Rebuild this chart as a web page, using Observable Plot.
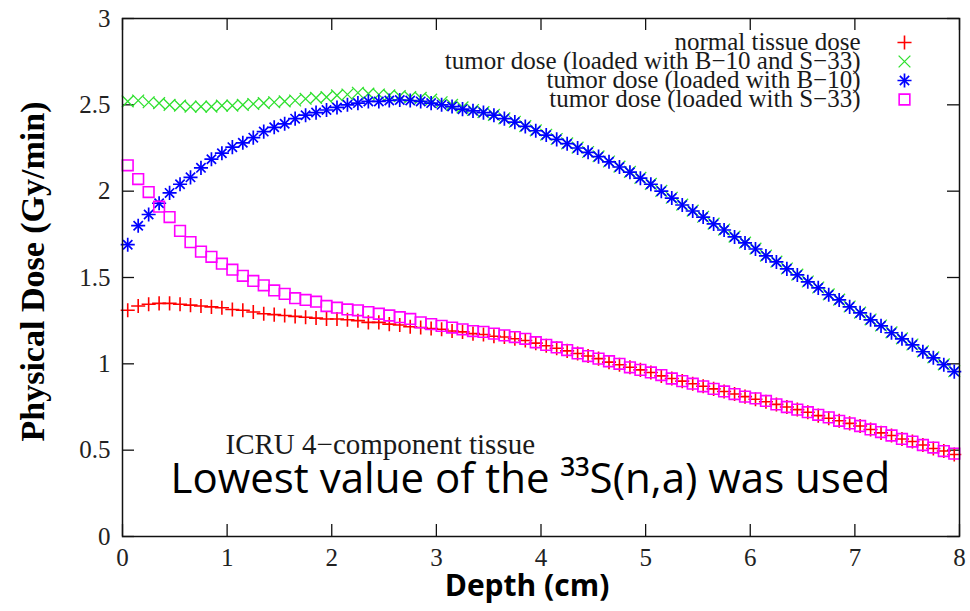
<!DOCTYPE html>
<html>
<head>
<meta charset="utf-8">
<script src="https://cdn.jsdelivr.net/npm/d3@7"></script>
<script src="https://cdn.jsdelivr.net/npm/@observablehq/plot@0.6"></script>
<style>
  body { margin: 0; background: #fff; }
</style>
</head>
<body>
<div id="chart"></div>
<script>
// ---- data ----
const depth = [
  0.05,0.15,0.25,0.35,0.45,0.55,0.65,0.75,0.85,0.95,
  1.05,1.15,1.25,1.35,1.45,1.55,1.65,1.75,1.85,1.95,
  2.05,2.15,2.25,2.35,2.45,2.55,2.65,2.75,2.85,2.95,
  3.05,3.15,3.25,3.35,3.45,3.55,3.65,3.75,3.85,3.95,
  4.05,4.15,4.25,4.35,4.45,4.55,4.65,4.75,4.85,4.95,
  5.05,5.15,5.25,5.35,5.45,5.55,5.65,5.75,5.85,5.95,
  6.05,6.15,6.25,6.35,6.45,6.55,6.65,6.75,6.85,6.95,
  7.05,7.15,7.25,7.35,7.45,7.55,7.65,7.75,7.85,7.95
];
const normalTissue = [
  1.31,1.335,1.345,1.35,1.35,1.345,1.34,1.335,1.33,1.325,
  1.315,1.31,1.30,1.29,1.285,1.28,1.275,1.27,1.265,1.26,
  1.26,1.255,1.25,1.24,1.24,1.23,1.225,1.215,1.21,1.205,
  1.20,1.19,1.185,1.175,1.17,1.16,1.155,1.145,1.135,1.12,
  1.105,1.09,1.075,1.06,1.045,1.03,1.01,0.995,0.98,0.965,
  0.95,0.93,0.915,0.90,0.885,0.87,0.855,0.84,0.825,0.81,
  0.795,0.78,0.765,0.75,0.735,0.72,0.70,0.685,0.67,0.655,
  0.64,0.62,0.60,0.585,0.565,0.55,0.53,0.51,0.495,0.475
];
const tumorB10S33 = [
  2.52,2.525,2.515,2.51,2.50,2.495,2.49,2.49,2.49,2.495,
  2.495,2.50,2.505,2.51,2.515,2.52,2.525,2.535,2.54,2.545,
  2.555,2.56,2.57,2.565,2.56,2.555,2.55,2.545,2.54,2.53,
  2.515,2.50,2.485,2.47,2.458,2.442,2.422,2.402,2.377,2.352,
  2.327,2.302,2.277,2.252,2.227,2.202,2.172,2.142,2.112,2.077,
  2.042,2.002,1.962,1.922,1.887,1.852,1.812,1.777,1.737,1.702,
  1.667,1.627,1.592,1.552,1.517,1.477,1.442,1.402,1.372,1.332,
  1.297,1.257,1.222,1.182,1.147,1.112,1.072,1.037,0.997,0.957
];
const tumorB10 = [
  1.69,1.80,1.865,1.93,1.99,2.04,2.08,2.135,2.185,2.22,
  2.255,2.28,2.31,2.345,2.37,2.39,2.42,2.44,2.455,2.47,
  2.485,2.50,2.51,2.52,2.52,2.525,2.528,2.525,2.52,2.51,
  2.50,2.49,2.475,2.465,2.455,2.44,2.42,2.40,2.375,2.35,
  2.325,2.30,2.275,2.25,2.225,2.20,2.17,2.14,2.11,2.075,
  2.04,2.00,1.96,1.92,1.885,1.85,1.81,1.775,1.735,1.70,
  1.665,1.625,1.59,1.55,1.515,1.475,1.44,1.40,1.37,1.33,
  1.295,1.255,1.22,1.18,1.145,1.11,1.07,1.035,0.995,0.955
];
const tumorS33 = [
  2.15,2.07,1.995,1.91,1.85,1.77,1.705,1.65,1.62,1.58,
  1.545,1.51,1.48,1.455,1.425,1.405,1.38,1.37,1.36,1.335,
  1.325,1.315,1.31,1.30,1.29,1.28,1.27,1.26,1.24,1.23,
  1.22,1.21,1.20,1.19,1.185,1.175,1.165,1.155,1.145,1.125,
  1.11,1.095,1.08,1.06,1.045,1.03,1.015,1.0,0.98,0.965,
  0.95,0.935,0.915,0.90,0.885,0.87,0.855,0.84,0.825,0.81,
  0.80,0.785,0.765,0.75,0.735,0.72,0.705,0.69,0.67,0.655,
  0.64,0.62,0.605,0.585,0.565,0.55,0.53,0.515,0.495,0.48
];
const xTicks = [0, 1, 2, 3, 4, 5, 6, 7, 8];
const yTicks = [0, 0.5, 1, 1.5, 2, 2.5, 3];
const legendLabels = [
  "normal tissue dose",
  "tumor dose (loaded with B\u221210 and S\u221233)",
  "tumor dose (loaded with B\u221210)",
  "tumor dose (loaded with S\u221233)"
];
const seriesColors = ["#ff0000", "#2ee02e", "#0000ff", "#ff00ff"];
const xTitle = "Depth (cm)";
const yTitle = "Physical Dose (Gy/min)";
const materialNote = "ICRU 4\u2212component tissue";
const annotation = "Lowest value of the \u00B3\u00B3S(n,a) was used";

// ---- build ----
const rows = vals => depth.map((d, i) => ({depth: d, dose: vals[i]}));
const serif = "Liberation Serif, Times New Roman, serif";
const sans = "Open Sans, Liberation Sans, sans-serif";

// symbol styles per series: list of [symbol, r, strokeWidth]
const seriesSymbols = [
  [["plus", 4.6, 1.6]],
  [["times", 5.4, 1.3]],
  [["plus", 4.6, 1.7], ["times", 4.3, 1.7]],
  [["square2", 6.8, 1.6]]
];
const seriesData = [normalTissue, tumorB10S33, tumorB10, tumorS33];

const frameW = 970 - 122 - 11;
const frameH = 611 - 18 - 75;

const marks = [];
// inward ticks on all four sides
marks.push(Plot.tickX(xTicks, {x: d => d, insetTop: frameH - 12, stroke: "#111", strokeWidth: 1.3}));
marks.push(Plot.tickX(xTicks, {x: d => d, insetBottom: frameH - 12, stroke: "#111", strokeWidth: 1.3}));
marks.push(Plot.tickY(yTicks, {y: d => d, insetRight: frameW - 12, stroke: "#111", strokeWidth: 1.3}));
marks.push(Plot.tickY(yTicks, {y: d => d, insetLeft: frameW - 12, stroke: "#111", strokeWidth: 1.3}));
// tick labels
const fmt = d => String(d);
marks.push(Plot.axisX(xTicks, {anchor: "bottom", tickSize: 0, tickPadding: 12, label: null, tickFormat: fmt, fill: "#222", fontSize: 25}));
marks.push(Plot.axisY(yTicks, {anchor: "left", tickSize: 0, tickPadding: 12, label: null, tickFormat: fmt, fill: "#222", fontSize: 25}));

// series
seriesData.forEach((vals, k) => {
  seriesSymbols[k].forEach(([sym, r, sw]) => {
    marks.push(Plot.dot(rows(vals), {x: "depth", y: "dose", symbol: sym, r, stroke: seriesColors[k], strokeWidth: sw}));
  });
});

// legend (inside the frame, top-right)
legendLabels.forEach((lab, k) => {
  marks.push(Plot.text([lab], {text: d => d, frameAnchor: "top-right", dx: -99, dy: 31 + k * 19,
    textAnchor: "end", lineAnchor: "bottom", fontSize: 25, fontFamily: serif, fill: "#1a1a1a"}));
  seriesSymbols[k].forEach(([sym, r, sw]) => {
    marks.push(Plot.dot([0], {frameAnchor: "top-right", dx: -55, dy: 24 + k * 19,
      symbol: sym, r, stroke: seriesColors[k], strokeWidth: sw}));
  });
});

// annotations
marks.push(Plot.text([materialNote], {text: d => d, frameAnchor: "bottom-left", dx: 103, dy: -83,
  textAnchor: "start", lineAnchor: "bottom", fontSize: 29, fontFamily: serif, fill: "#1a1a1a"}));
marks.push(Plot.text([annotation], {text: d => d, frameAnchor: "bottom-left", dx: 48, dy: -44,
  textAnchor: "start", lineAnchor: "bottom", fontSize: 42, fontFamily: sans, fill: "#000"}));

// axis titles
marks.push(Plot.text([xTitle], {text: d => d, frameAnchor: "bottom", dx: -14, dy: 59,
  textAnchor: "middle", lineAnchor: "bottom", fontSize: 30, fontWeight: "bold", fontFamily: sans, fill: "#000"}));
marks.push(Plot.text([yTitle], {text: d => d, frameAnchor: "left", dx: -79, dy: -6, rotate: -90,
  textAnchor: "middle", lineAnchor: "bottom", fontSize: 34, fontWeight: "bold", fontFamily: serif, fill: "#000"}));

marks.push(Plot.frame({stroke: "#111", strokeWidth: 1.5}));

const chart = Plot.plot({
  width: 970,
  height: 611,
  marginLeft: 122,
  marginRight: 11,
  marginTop: 18,
  marginBottom: 75,
  x: {domain: [0, 8], axis: null},
  y: {domain: [0, 3], axis: null},
  style: {background: "#fff", fontFamily: serif, fontSize: "25px", color: "#222"},
  marks
});
document.getElementById("chart").appendChild(chart);
</script>
</body>
</html>
